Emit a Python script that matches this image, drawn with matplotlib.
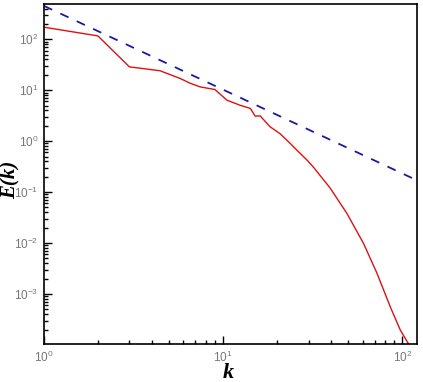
import matplotlib
matplotlib.use("Agg")
import matplotlib.pyplot as plt
from matplotlib.ticker import LogLocator, NullFormatter

# Energy spectrum (red solid)
k_spec = [1.0, 2.0, 3.0, 3.44, 4.45, 5.75, 6.54, 7.44, 9.0, 10.5, 12.4, 14.2, 15.1,
          16.1, 18.3, 20.8, 23.7, 25.8, 29.5, 31.9, 39.6, 49.1, 60.8, 72.3, 85.8, 97.5, 110.8]
E_spec = [172, 116, 28.6, 27, 24, 17, 13.7, 11.6, 10.3, 6.37, 5.08, 4.38, 3.09,
          3.13, 1.91, 1.40, 0.90, 0.667, 0.42, 0.31, 0.12, 0.0382, 0.00986, 0.00255,
          5.6e-4, 1.97e-4, 9.3e-5]

# -5/3 reference slope (blue dashed)
k_ref = [1.0, 121.0]
E_ref = [450.0, 0.17]

fig = plt.figure(figsize=(4.23, 3.82), dpi=100)
ax = fig.add_axes([0.104, 0.0995, 0.882, 0.89])
ax.plot(k_spec, E_spec, color="#dd1111", lw=1.0)
ax.plot(k_ref, E_ref, color="#1a1aa0", lw=1.3, ls=(0, (5, 5)))
ax.set_xscale("log")
ax.set_yscale("log")
ax.set_xlim(1, 121)
ax.set_ylim(1.05e-4, 490)

ax.xaxis.set_major_locator(LogLocator(base=10, numticks=10))
ax.xaxis.set_minor_locator(LogLocator(base=10, subs=range(2, 10), numticks=20))
ax.yaxis.set_major_locator(LogLocator(base=10, numticks=10))
ax.yaxis.set_minor_locator(LogLocator(base=10, subs=range(2, 10), numticks=20))
ax.xaxis.set_minor_formatter(NullFormatter())
ax.yaxis.set_minor_formatter(NullFormatter())

ax.tick_params(which="both", direction="in", top=False, right=False,
               labelsize=8.5, labelcolor="#777777", width=1.0, pad=4)
ax.tick_params(which="major", length=6)
ax.tick_params(which="minor", length=3)
for s in ax.spines.values():
    s.set_linewidth(1.2)
for lab in ax.get_xticklabels() + ax.get_yticklabels():
    lab.set_family(["Liberation Sans", "DejaVu Sans"])

ax.set_ylabel("E(k)", fontsize=15, family="Liberation Serif", style="italic",
              weight="bold")
ax.yaxis.label.set_va("center")
ax.yaxis.set_label_coords(-0.091, 0.482)
ax.set_xlabel("k", fontsize=16, family="Liberation Serif", style="italic",
              weight="bold")
ax.xaxis.label.set_va("center")
ax.xaxis.set_label_coords(0.493, -0.084)

fig.savefig("out.png", dpi=100)
